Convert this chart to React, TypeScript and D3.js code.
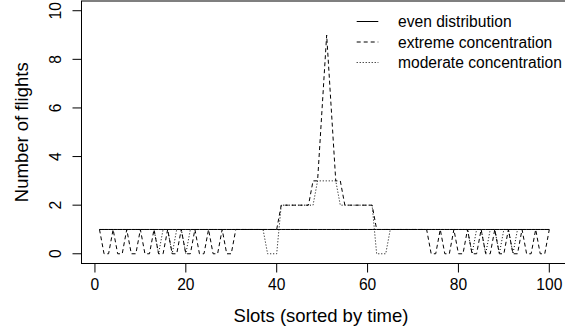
import React from "react";
import * as d3 from "d3";

const slots: number[] = d3.range(1, 101);

const evenDistribution: number[] = [
  1, 1, 1, 1, 1, 1, 1, 1, 1, 1,
  1, 1, 1, 1, 1, 1, 1, 1, 1, 1,
  1, 1, 1, 1, 1, 1, 1, 1, 1, 1,
  1, 1, 1, 1, 1, 1, 1, 1, 1, 1,
  1, 1, 1, 1, 1, 1, 1, 1, 1, 1,
  1, 1, 1, 1, 1, 1, 1, 1, 1, 1,
  1, 1, 1, 1, 1, 1, 1, 1, 1, 1,
  1, 1, 1, 1, 1, 1, 1, 1, 1, 1,
  1, 1, 1, 1, 1, 1, 1, 1, 1, 1,
  1, 1, 1, 1, 1, 1, 1, 1, 1, 1,
];

const extremeConcentration: number[] = [
  1, 0, 0, 1, 0, 0, 1, 0, 0, 1,
  0, 0, 1, 0, 0, 1, 0, 0, 1, 0,
  0, 1, 0, 0, 1, 0, 0, 1, 0, 0,
  1, 1, 1, 1, 1, 1, 1, 1, 1, 1,
  2, 2, 2, 2, 2, 2, 2, 3, 3, 6,
  9, 6, 3, 3, 2, 2, 2, 2, 2, 2,
  2, 1, 1, 1, 1, 1, 1, 1, 1, 1,
  1, 1, 1, 0, 0, 1, 0, 0, 1, 0,
  0, 1, 0, 0, 1, 0, 0, 1, 0, 0,
  1, 0, 0, 1, 0, 0, 1, 0, 0, 1,
];

const moderateConcentration: number[] = [
  1, 1, 1, 1, 1, 1, 1, 1, 1, 1,
  1, 1, 1, 0, 1, 1, 0, 1, 1, 0,
  1, 1, 1, 1, 1, 1, 1, 1, 1, 1,
  1, 1, 1, 1, 1, 1, 1, 0, 0, 0,
  2, 2, 2, 2, 2, 2, 2, 2, 3, 3,
  3, 3, 3, 2, 2, 2, 2, 2, 2, 2,
  2, 0, 0, 0, 1, 1, 1, 1, 1, 1,
  1, 1, 1, 1, 1, 1, 1, 1, 1, 1,
  1, 1, 0, 1, 1, 0, 1, 1, 0, 1,
  1, 0, 1, 1, 1, 1, 1, 1, 1, 1,
];

const xTicks: number[] = [0, 20, 40, 60, 80, 100];
const yTicks: number[] = [0, 2, 4, 6, 8, 10];

const seriesNames: string[] = ["even distribution", "extreme concentration", "moderate concentration"];
const seriesDash: string[] = ["none", "4,3", "1,2"];

const xLabel = "Slots (sorted by time)";
const yLabel = "Number of flights";

const W = 565;
const H = 333;
const FONT = "'Liberation Sans', Arial, Helvetica, sans-serif";

export default function App() {
  const x = d3.scaleLinear().domain([-2.96, 103.96]).range([81.5, 567.3]);
  const y = d3.scaleLinear().domain([-0.4, 10.4]).range([263.5, 1]);

  const line = (vals: number[]) =>
    d3
      .line<number>()
      .x((_, i) => x(slots[i]))
      .y((d) => y(d))(vals) as string;

  const series = [evenDistribution, extremeConcentration, moderateConcentration];

  const [x0, x1] = x.range();
  const [y0, y1] = y.range();

  const legendRows = [21.5, 42, 62.5];

  return (
    <svg
      width={W}
      height={H}
      style={{ position: "absolute", left: 0, top: 0, background: "#fff" }}
      fontFamily={FONT}
    >
      <rect x={0} y={0} width={W} height={H} fill="#fff" />
      {series.map((s, i) => (
        <path
          key={i}
          d={line(s)}
          fill="none"
          stroke="#000"
          strokeWidth={1}
          strokeDasharray={seriesDash[i]}
        />
      ))}
      {/* box */}
      <rect x={x0} y={y1} width={x1 - x0} height={y0 - y1} fill="none" stroke="#000" strokeWidth={1} />
      {/* x axis */}
      {xTicks.map((t) => (
        <g key={"x" + t}>
          <line x1={x(t)} x2={x(t)} y1={y0} y2={y0 + 9} stroke="#000" strokeWidth={1} />
          <text x={x(t)} y={289.5} fontSize={15.6} textAnchor="middle" fill="#000">
            {t}
          </text>
        </g>
      ))}
      {/* y axis */}
      {yTicks.map((t) => (
        <g key={"y" + t}>
          <line x1={x0 - 9} x2={x0} y1={y(t)} y2={y(t)} stroke="#000" strokeWidth={1} />
          <text
            transform={`translate(61,${y(t)}) rotate(-90)`}
            fontSize={15.6}
            textAnchor="middle"
            fill="#000"
          >
            {t}
          </text>
        </g>
      ))}
      <text x={321} y={322} fontSize={18.5} textAnchor="middle" fill="#000">
        {xLabel}
      </text>
      <text
        transform={`translate(28,${(y0 + y1) / 2}) rotate(-90)`}
        fontSize={18.5}
        textAnchor="middle"
        fill="#000"
      >
        {yLabel}
      </text>
      {/* legend */}
      {seriesNames.map((name, i) => (
        <g key={name}>
          <line
            x1={356.7}
            x2={378.3}
            y1={legendRows[i]}
            y2={legendRows[i]}
            stroke="#000"
            strokeWidth={1}
            strokeDasharray={seriesDash[i]}
          />
          <text x={398} y={legendRows[i] + 5.5} fontSize={15.6} fill="#000">
            {name}
          </text>
        </g>
      ))}
    </svg>
  );
}
